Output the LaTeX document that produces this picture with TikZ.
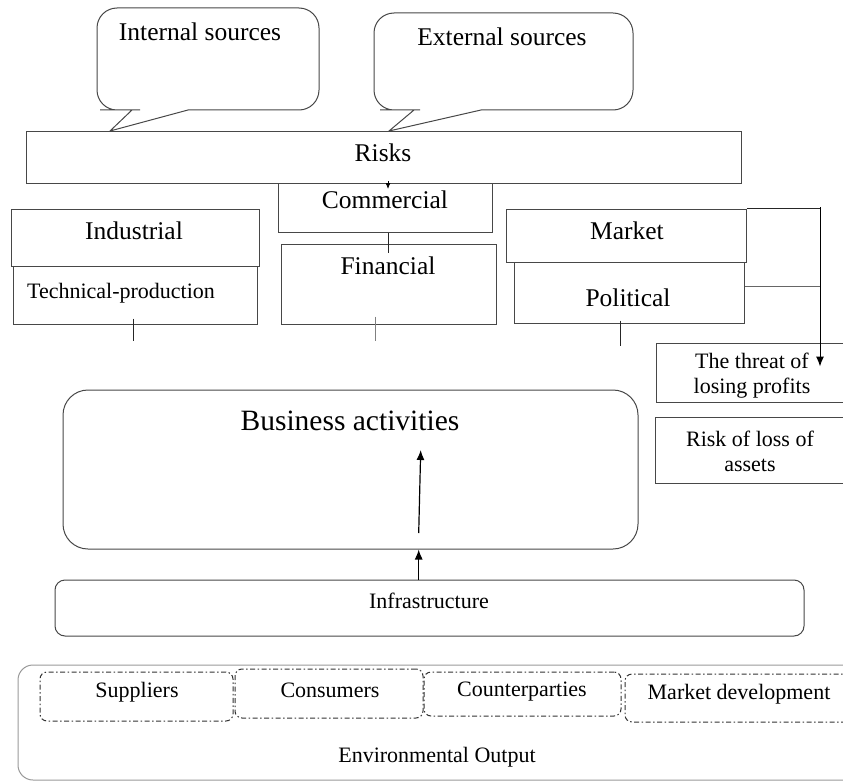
\documentclass[tikz,border=0pt]{standalone}
\usepackage{fontspec}
\setmainfont{Liberation Serif}
\usetikzlibrary{arrows.meta,calc}
\begin{document}
\begin{tikzpicture}[x=1pt,y=-1pt,
  box/.style={draw=black!72, line width=1pt, rectangle, inner sep=0pt},
  rbox/.style={box, rounded corners=#1},
  callout/.style={draw=black!72, line width=1pt},
  lbl/.style={inner sep=0pt, font=\fontsize{25.5}{28}\selectfont},
  small/.style={inner sep=0pt, font=\fontsize{22}{25}\selectfont, align=center},
  big/.style={inner sep=0pt, font=\fontsize{29.5}{32}\selectfont},
  arr/.style={-{Latex[length=10pt,width=8pt]}, line width=1.2pt, black},
  tinyarr/.style={-{Latex[length=6pt,width=5pt]}, line width=0.8pt, black},
  stub/.style={line width=1pt, black!85},
  dd/.style={draw=black!80, line width=1pt, rounded corners=7pt,
    dash pattern=on 5pt off 2.5pt on 1.5pt off 2.5pt, inner sep=0pt, rectangle}
]
\useasboundingbox (0,0) rectangle (843,781);
\clip (0,0) rectangle (843,781);

% speech bubbles for the two kinds of sources
\draw[callout] (132,110) -- (110,131) -- (188,110) -- (200,110)
  [rounded corners=20pt] -- (319,110) -- (319,8) -- (97,8) -- (97,110) -- (120,110)
  [sharp corners] -- cycle;
\node[lbl] (tInt) at (200,32) {Internal sources};
\draw[callout] (414,110) -- (389,131) -- (481,110) -- (490,110)
  [rounded corners=20pt] -- (633,110) -- (633,13) -- (374,13) -- (374,110) -- (400,110)
  [sharp corners] -- cycle;
\node[lbl] (tExt) at (502,37) {External sources};

% risks and their groups
\node[box, minimum width=715pt, minimum height=51pt] (risks) at (383.5,157.5) {};
\node[lbl] (tRisks) at (383,153) {Risks};

\node[box, minimum width=214pt, minimum height=49pt] (comm) at (385,207.5) {};
\node[lbl] (tComm) at (385,200) {Commercial};

\node[box, minimum width=248pt, minimum height=57pt] (ind) at (135,237.5) {};
\node[lbl] (tInd) at (134,231) {Industrial};
\node[box, minimum width=244pt, minimum height=58pt] (tech) at (135,295) {};
\node[small] (tTech) at (121,293) {Technical-production};

\node[box, minimum width=215pt, minimum height=80pt] (fin) at (388.5,284) {};
\node[lbl] (tFin) at (388,266) {Financial};

\node[box, minimum width=240pt, minimum height=53pt] (mkt) at (626,235.5) {};
\node[lbl] (tMkt) at (627,231) {Market};
\node[box, minimum width=230pt, minimum height=61pt] (pol) at (629,292.5) {};
\node[lbl] (tPol) at (628,298) {Political};

% consequences
\node[box, minimum width=204pt, minimum height=59pt] (threat) at (758,372.5) {};
\node[small] (tThreat) at (752,376) {The threat of\\losing profits};
\node[box, minimum width=205pt, minimum height=66pt] (loss) at (757.5,450) {};
\node[small] (tLoss) at (750,451) {Risk of loss of\\assets};

% activities and infrastructure
\node[rbox=25pt, minimum width=575pt, minimum height=159pt] (bus) at (350.5,469.5) {};
\node[big] (tBus) at (350,421) {Business activities};
\node[rbox=10pt, minimum width=749pt, minimum height=56pt] (infra) at (429.5,608) {};
\node[small] (tInfra) at (429,601) {Infrastructure};

% environment
\node[box, draw=black!40, rounded corners=15pt, minimum width=852pt, minimum height=115pt] (env) at (444,722.5) {};
\node[small] (tEnv) at (437,757) {Environmental Output};
\node[dd, minimum width=193pt, minimum height=49pt] (sup) at (136.5,696.5) {};
\node[small] (tSup) at (137,692) {Suppliers};
\node[dd, minimum width=188pt, minimum height=49pt] (cons) at (329,693.5) {};
\node[small] (tCons) at (330,690) {Consumers};
\node[dd, minimum width=197pt, minimum height=44pt] (cpty) at (522.5,694) {};
\node[small] (tCpty) at (522,692) {Counterparties};
\node[dd, minimum width=255pt, minimum height=48pt] (mdev) at (752.5,698) {};
\node[small] (tMdev) at (739,694) {Market development};

% connectors
\coordinate (cTop) at (388,181);
\draw[tinyarr] (cTop) -- ++(0,8);
\draw[stub] (comm.south -| fin.north) -- ++(0,20);
\draw[stub] ($(tech.south)+(-2,-6)$) -- ++(0,22);
\draw[stub, black!50] ($(fin.south)+(-13.5,-8)$) -- ++(0,24);
\draw[stub] ($(pol.south)+(-9,-3)$) -- ++(0,25);

\coordinate (rTop) at (820,207);
\draw[stub] (mkt.north east) -- (mkt.north east -| rTop);
\draw[stub, black!60] ($(pol.east)+(0,-6.5)$) -- ($(pol.east -| rTop)+(0,-6.5)$);
\draw[arr, line width=1pt] (rTop) -- ($(rTop |- threat.north)+(0,24)$);

\coordinate (inA) at (418.7,533);
\coordinate (inB) at (420.7,450);
\draw[arr] (inA) -- (inB);
\coordinate (upA) at (418.7,580);
\draw[arr] (upA) -- (upA |- bus.south);
\end{tikzpicture}
\end{document}
